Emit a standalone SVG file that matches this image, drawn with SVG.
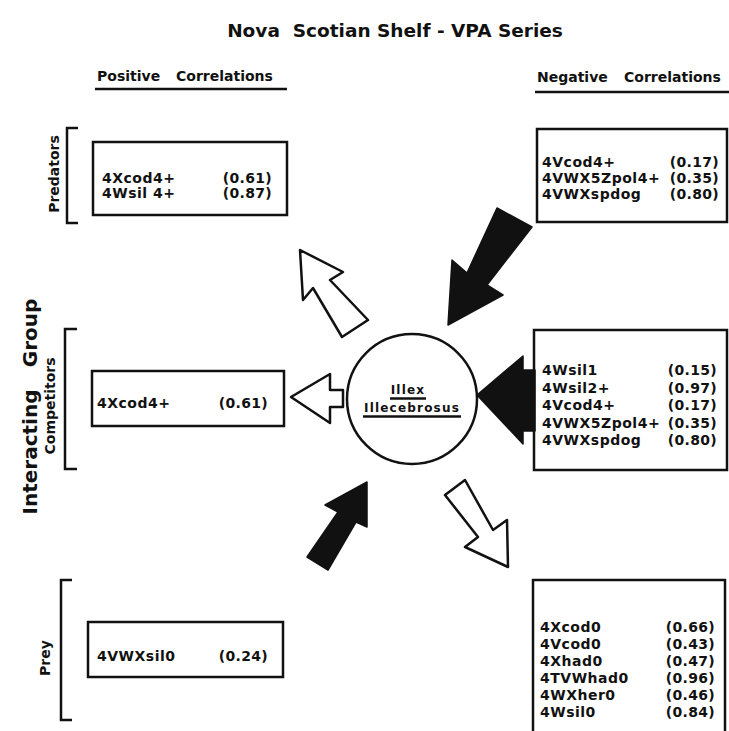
<svg xmlns="http://www.w3.org/2000/svg" width="729" height="731" viewBox="0 0 729 731">
<style>
  text { font-family: "DejaVu Sans", "Liberation Sans", sans-serif; font-weight: bold; fill: #111; }
  .t { font-size: 14px; letter-spacing: 0.5px; }
  .v { font-size: 14px; letter-spacing: 0.3px; text-anchor: end; }
  .box { fill: none; stroke: #111; stroke-width: 2.5; }
  .br { fill: none; stroke: #111; stroke-width: 2.5; }
  .ul { stroke: #111; stroke-width: 2.5; }
  .wa { fill: #fff; stroke: #111; stroke-width: 2.5; stroke-linejoin: round; }
  .ba { fill: #111; stroke: #111; stroke-width: 1.5; stroke-linejoin: round; }
  .grp { font-size: 14px; }
</style>
<rect x="0" y="0" width="729" height="731" fill="#fff"/>

<g id="title">
  <text x="395" y="37" text-anchor="middle" font-size="18.5" xml:space="preserve">Nova  Scotian Shelf - VPA Series</text>
</g>

<g id="header-positive">
  <text x="97" y="81" font-size="14">Positive</text>
  <text x="176" y="81" font-size="14">Correlations</text>
  <line class="ul" x1="95" y1="89" x2="287" y2="89"/>
</g>
<g id="header-negative">
  <text x="537" y="82" font-size="14">Negative</text>
  <text x="624" y="82" font-size="14">Correlations</text>
  <line class="ul" x1="535" y1="92" x2="729" y2="92"/>
</g>

<g id="label-interacting">
  <text transform="translate(37,452) rotate(-90)" text-anchor="middle" font-size="20">Interacting</text>
  <text transform="translate(37,333) rotate(-90)" text-anchor="middle" font-size="20">Group</text>
</g>

<g id="predators">
  <text class="grp" transform="translate(59,174) rotate(-90)" text-anchor="middle">Predators</text>
  <path class="br" d="M78,128 H67 V223 H78"/>
  <rect class="box" x="93" y="142" width="194" height="73"/>
  <text class="t" x="102" y="183">4Xcod4+</text>
  <text class="v" x="272" y="183">(0.61)</text>
  <text class="t" x="102" y="198">4Wsil 4+</text>
  <text class="v" x="272" y="198">(0.87)</text>
</g>

<g id="competitors">
  <text class="grp" transform="translate(55,406) rotate(-90)" text-anchor="middle" font-size="13">Competitors</text>
  <path class="br" d="M77,329 H65 V469 H77"/>
  <rect class="box" x="92" y="371" width="192" height="55"/>
  <text class="t" x="97" y="408">4Xcod4+</text>
  <text class="v" x="268" y="408">(0.61)</text>
</g>

<g id="prey">
  <text class="grp" transform="translate(50,658) rotate(-90)" text-anchor="middle" font-size="15">Prey</text>
  <path class="br" d="M72,580 H61 V720 H72"/>
  <rect class="box" x="88" y="622" width="195" height="55"/>
  <text class="t" x="97" y="661">4VWXsil0</text>
  <text class="v" x="268" y="661">(0.24)</text>
</g>

<g id="neg-predators">
  <rect class="box" x="537" y="129" width="190" height="93"/>
  <text class="t" x="542" y="167">4Vcod4+</text>
  <text class="v" x="719" y="167">(0.17)</text>
  <text class="t" x="542" y="183">4VWX5Zpol4+</text>
  <text class="v" x="719" y="183">(0.35)</text>
  <text class="t" x="542" y="199">4VWXspdog</text>
  <text class="v" x="719" y="199">(0.80)</text>
</g>

<g id="neg-competitors">
  <rect class="box" x="534" y="330" width="193" height="140"/>
  <text class="t" x="542" y="375">4Wsil1</text>
  <text class="v" x="717" y="375">(0.15)</text>
  <text class="t" x="542" y="392.5">4Wsil2+</text>
  <text class="v" x="717" y="392.5">(0.97)</text>
  <text class="t" x="542" y="410">4Vcod4+</text>
  <text class="v" x="717" y="410">(0.17)</text>
  <text class="t" x="542" y="427.5">4VWX5Zpol4+</text>
  <text class="v" x="717" y="427.5">(0.35)</text>
  <text class="t" x="542" y="445">4VWXspdog</text>
  <text class="v" x="717" y="445">(0.80)</text>
</g>

<g id="neg-prey">
  <rect class="box" x="533" y="580" width="192" height="160"/>
  <text class="t" x="540" y="632">4Xcod0</text>
  <text class="v" x="715" y="632">(0.66)</text>
  <text class="t" x="540" y="649">4Vcod0</text>
  <text class="v" x="715" y="649">(0.43)</text>
  <text class="t" x="540" y="666">4Xhad0</text>
  <text class="v" x="715" y="666">(0.47)</text>
  <text class="t" x="540" y="683">4TVWhad0</text>
  <text class="v" x="715" y="683">(0.96)</text>
  <text class="t" x="540" y="700">4WXher0</text>
  <text class="v" x="715" y="700">(0.46)</text>
  <text class="t" x="540" y="717">4Wsil0</text>
  <text class="v" x="715" y="717">(0.84)</text>
</g>

<g id="illex">
  <circle cx="412" cy="399" r="65" fill="#fff" stroke="#111" stroke-width="2.5"/>
  <text x="408" y="394" text-anchor="middle" font-size="12" letter-spacing="1.2">Illex</text>
  <line class="ul" x1="390" y1="398.5" x2="426" y2="398.5" stroke-width="1.8"/>
  <text x="412" y="412" text-anchor="middle" font-size="12" letter-spacing="1.2">Illecebrosus</text>
  <line class="ul" x1="363" y1="416.5" x2="461" y2="416.5" stroke-width="1.8"/>
</g>

<g id="connectors">
  <polygon class="wa" points="300,250 343,272 330,280 368,320 342,337 313,288 303,300"/>
  <polygon class="wa" points="291,397 330,374 330,390 343,390 343,407 330,407 330,423"/>
  <polygon class="ba" points="497,208 532,227 487,285 503,295 448,325 452,260 467,273"/>
  <polygon class="ba" points="477,395 523,356 523,370 535,370 535,431 523,431 523,444"/>
  <polygon class="ba" points="367,482 367,527 356,522 328,570 307,557 338,512 325,505"/>
  <polygon class="wa" points="445,495 465,480 493,530 507,520 508,567 465,547 478,537"/>
</g>
</svg>
